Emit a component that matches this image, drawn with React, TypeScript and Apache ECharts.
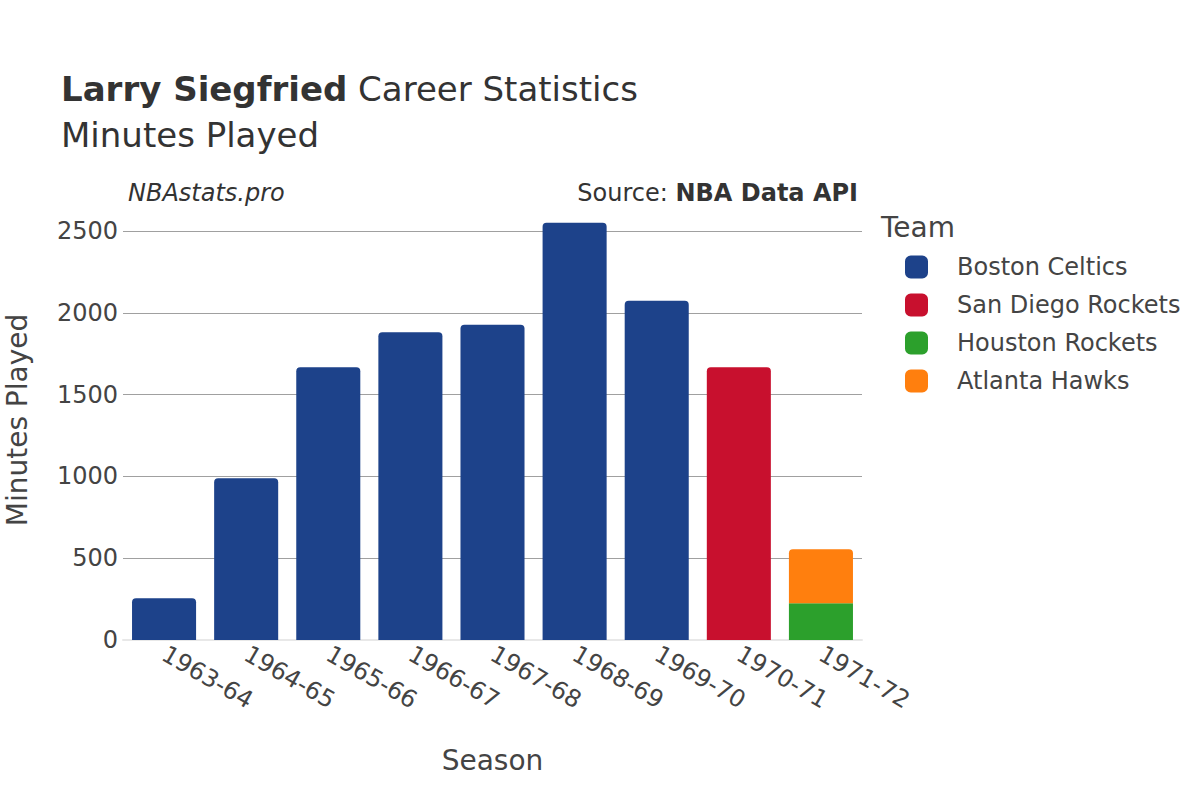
import React, { useEffect, useRef } from "react";
import * as echarts from "echarts";

const seasons = ["1963-64", "1964-65", "1965-66", "1966-67", "1967-68", "1968-69", "1969-70", "1970-71", "1971-72"];
const bostonCeltics = [255, 988, 1667, 1881, 1927, 2551, 2074, null, null];
const sanDiegoRockets = [null, null, null, null, null, null, null, 1667, null];
const houstonRockets = [null, null, null, null, null, null, null, null, 224];
const atlantaHawks = [null, null, null, null, null, null, null, null, 330];
const teamNames = ["Boston Celtics", "San Diego Rockets", "Houston Rockets", "Atlanta Hawks"];
const teamColors = ["#1d428a", "#c8102e", "#2ca02c", "#ff7f0e"];
const yTicks = [0, 500, 1000, 1500, 2000, 2500];

const FONT = "DejaVu Sans";

export default function App() {
  const ref = useRef<HTMLDivElement>(null);
  useEffect(() => {
    if (!ref.current) return;
    const chart = echarts.init(ref.current, undefined, { renderer: "svg" });
    const seriesData = [bostonCeltics, sanDiegoRockets, houstonRockets, atlantaHawks];
    const radii: any[] = [[4, 4, 0, 0], [4, 4, 0, 0], [0, 0, 0, 0], [4, 4, 0, 0]];
    chart.setOption({
      animation: false,
      textStyle: { fontFamily: FONT },
      grid: { left: 123, right: 338, top: 231, bottom: 160, containLabel: false, outerBoundsMode: "none" },
      legend: {
        orient: "vertical",
        left: 900,
        top: 250,
        itemWidth: 23,
        itemHeight: 23,
        itemGap: 14,
        icon: "roundRect",
        data: teamNames,
        textStyle: { fontFamily: FONT, fontSize: 24, color: "#444", padding: [0, 0, 0, 24] },
      },
      xAxis: {
        type: "category",
        data: seasons,
        axisLine: { show: true, lineStyle: { color: "#e8e8e8", width: 2 } },
        axisTick: { show: false },
        axisLabel: { rotate: -30, fontSize: 24, color: "#444", margin: 12, fontFamily: FONT },
        name: "Season",
        nameLocation: "middle",
        nameGap: 106,
        nameTextStyle: { fontSize: 28, color: "#444", fontFamily: FONT },
      },
      yAxis: {
        type: "value",
        min: yTicks[0],
        max: yTicks[yTicks.length - 1],
        interval: 500,
        axisLine: { show: false },
        axisTick: { show: false },
        axisLabel: { fontSize: 24, color: "#444", margin: 5, fontFamily: FONT, formatter: (v: number) => String(v) },
        splitLine: { lineStyle: { color: "#a0a0a0", width: 1 } },
      },
      series: teamNames.map((name, i) => ({
        name,
        type: "bar",
        stack: "total",
        data: seriesData[i],
        barWidth: "78%",
        clip: false,
        itemStyle: { color: teamColors[i], borderRadius: radii[i] },
      })),
      graphic: [
        {
          type: "text",
          left: 61,
          top: 72,
          style: {
            rich: {
              b: { fontFamily: FONT, fontSize: 34, fontWeight: "bold", fill: "#333" },
              n: { fontFamily: FONT, fontSize: 34, fill: "#333" },
            },
            text: "{b|Larry Siegfried}{n| Career Statistics}",
          },
        },
        {
          type: "text",
          left: 61,
          top: 118,
          style: { text: "Minutes Played", fontFamily: FONT, fontSize: 34, fill: "#333" },
        },
        {
          type: "text",
          left: 128,
          top: 181,
          style: { text: "NBAstats.pro", fontFamily: FONT, fontSize: 24, fontStyle: "italic", fill: "#333" },
        },
        {
          type: "text",
          right: 342,
          top: 181,
          style: {
            rich: {
              n: { fontFamily: FONT, fontSize: 24, fill: "#333" },
              b: { fontFamily: FONT, fontSize: 24, fontWeight: "bold", fill: "#333" },
            },
            text: "{n|Source: }{b|NBA Data API}",
          },
        },
        {
          type: "text",
          left: 881,
          top: 213,
          style: { text: "Team", fontFamily: FONT, fontSize: 28, fill: "#444" },
        },
        {
          type: "text",
          x: 17,
          y: 420,
          rotation: Math.PI / 2,
          style: {
            text: "Minutes Played",
            fontFamily: FONT,
            fontSize: 28,
            fill: "#444",
            align: "center",
            verticalAlign: "middle",
          },
        },
      ],
    });
    return () => chart.dispose();
  }, []);
  return <div ref={ref} style={{ position: "absolute", left: 0, top: 0, width: 1200, height: 800 }} />;
}
